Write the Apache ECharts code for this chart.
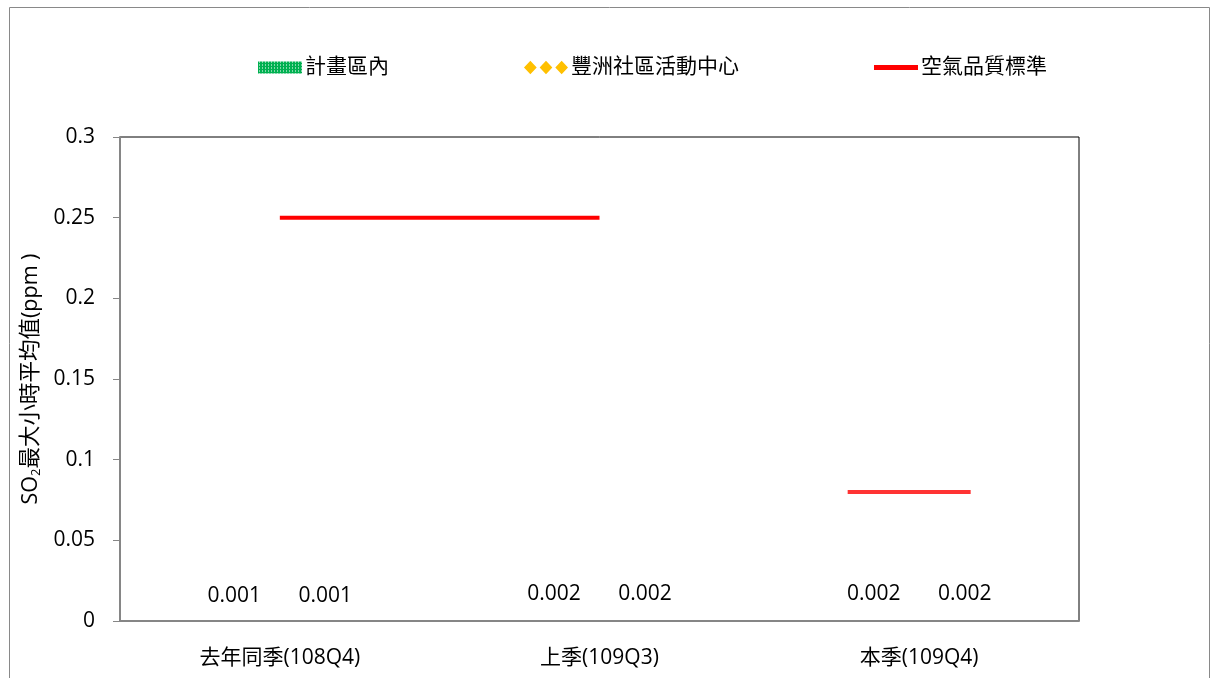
<!DOCTYPE html>
<html>
<head>
<meta charset="utf-8">
<script src="https://cdn.jsdelivr.net/npm/echarts@6/dist/echarts.min.js"></script>
<style>
html,body{margin:0;padding:0;background:#fff;}
#chart{width:1211px;height:678px;}
</style>
</head>
<body>
<div id="chart"></div>
<script>
// ---- data ----
var categories = ['去年同季(108Q4)', '上季(109Q3)', '本季(109Q4)'];
var seriesNames = ['計畫區內', '豐洲社區活動中心', '空氣品質標準'];
var planArea = [0.001, 0.002, 0.002];
var fengzhou = [0.001, 0.002, 0.002];
var standardPrev = [0.25, 0.25, null];
var standardCurrent = [null, null, 0.08];
var yTicks = { min: 0, max: 0.3, interval: 0.05 };

var FONT = "'Open Sans', 'Noto Sans CJK TC', sans-serif";
var chart = echarts.init(document.getElementById('chart'));

var diamondPath = 'path://M0,7 L6.5,0 L13,7 L6.5,14 Z M16,7 L22.5,0 L29,7 L22.5,14 Z M32,7 L38.5,0 L45,7 L38.5,14 Z';
var greenSvg = "<svg xmlns='http://www.w3.org/2000/svg' width='44' height='14'><defs><pattern id='p' width='3' height='3' patternUnits='userSpaceOnUse'><rect width='3' height='3' fill='#00B050'/><rect x='1' y='1' width='1' height='1' fill='#ffffff'/></pattern></defs><rect y='1' width='44' height='12' fill='url(#p)'/></svg>";
var greenIcon = 'image://data:image/svg+xml;charset=utf-8,' + encodeURIComponent(greenSvg);

var option = {
  animation: false,
  backgroundColor: '#fff',
  textStyle: { fontFamily: FONT },
  graphic: [{
    type: 'rect',
    shape: { x: 9.5, y: 7.5, width: 1200, height: 690 },
    style: { fill: 'none', stroke: '#898989', lineWidth: 1 },
    silent: true,
    z: -10
  }],
  legend: {
    left: 253,
    top: 52,
    itemGap: 135,
    itemWidth: 44,
    itemHeight: 14,
    textStyle: { fontSize: 21, color: '#000', fontFamily: FONT, padding: [0, 0, 0, -2] },
    data: [
      { name: seriesNames[0], icon: greenIcon },
      { name: seriesNames[1], icon: diamondPath, itemStyle: { color: '#FFC000' } },
      { name: seriesNames[2], icon: 'path://M0,0 L46,0 L46,5 L0,5 Z', itemStyle: { color: '#FF0000' } }
    ]
  },
  grid: {
    left: 120, right: 132, top: 137, bottom: 57,
    show: true, borderColor: '#000', borderWidth: 1, backgroundColor: 'transparent'
  },
  xAxis: {
    type: 'category',
    data: categories,
    axisLine: { lineStyle: { color: '#868686', width: 2 } },
    axisTick: { show: false },
    axisLabel: { color: '#000', fontSize: 21, margin: 27, fontFamily: FONT }
  },
  yAxis: {
    type: 'value',
    min: yTicks.min, max: yTicks.max, interval: yTicks.interval,
    axisLine: { show: true, lineStyle: { color: '#868686', width: 2 } },
    axisTick: { show: true, length: 7, lineStyle: { color: '#868686', width: 1 } },
    splitLine: { show: false },
    axisLabel: {
      color: '#000', fontSize: 21, margin: 25, fontFamily: FONT,
      formatter: function (v) { return String(+v.toFixed(2)); }
    },
    name: '{a|SO}{s|2}{a|最大小時平均值(ppm )}',
    nameLocation: 'middle',
    nameRotate: 90,
    nameGap: 66,
    nameTextStyle: {
      color: '#000', fontFamily: FONT,
      rich: {
        a: { fontSize: 21.5, color: '#000', fontFamily: FONT },
        s: { fontSize: 13, color: '#000', fontFamily: FONT, padding: [11, 0, 0, 0] }
      }
    }
  },
  series: [
    {
      name: seriesNames[0],
      type: 'bar',
      data: planArea,
      barWidth: 91,
      barGap: '0%',
      itemStyle: { color: 'rgba(0,176,80,0)' },
      label: {
        show: true, position: 'top', distance: 13, color: '#000', fontSize: 21, fontFamily: FONT,
        formatter: function (p) { return p.value.toFixed(3); }
      },
      z: 1
    },
    {
      name: seriesNames[1],
      type: 'bar',
      data: fengzhou,
      barWidth: 91,
      barGap: '0%',
      itemStyle: { color: 'rgba(255,192,0,0)' },
      label: {
        show: true, position: 'top', distance: 13, color: '#000', fontSize: 21, fontFamily: FONT,
        formatter: function (p) { return p.value.toFixed(3); }
      },
      z: 1
    },
    {
      name: seriesNames[2],
      type: 'line',
      data: standardPrev,
      symbol: 'none',
      lineStyle: { color: '#FF0000', width: 4 },
      itemStyle: { color: '#FF0000' },
      z: 5
    },
    {
      name: 'standardCurrent',
      type: 'scatter',
      data: standardCurrent,
      symbol: 'rect',
      symbolSize: [123, 4],
      symbolOffset: [-10, 0],
      itemStyle: { color: '#FF0000' },
      z: 5
    }
  ]
};
chart.setOption(option);
</script>
</body>
</html>
